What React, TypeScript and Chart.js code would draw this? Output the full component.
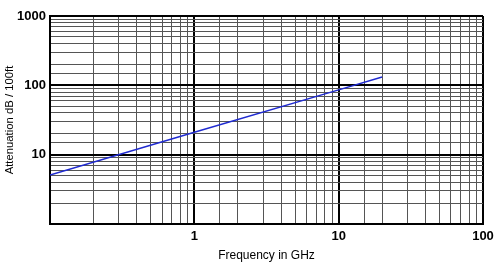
import React, { useEffect, useRef } from "react";
import { Chart, registerables } from "chart.js";

Chart.register(...registerables);

const frequencies = [0.1, 1, 10, 20];
const attenuation = [5.1, 21, 86, 132];
const xLabels = [1, 10, 100];
const yLabels = [10, 100, 1000];

const isDecade = (v: number) => Math.abs(Math.log10(v) - Math.round(Math.log10(v))) < 1e-6;

export default function App() {
  const ref = useRef<HTMLCanvasElement>(null);
  useEffect(() => {
    document.body.style.margin = "0";
    const ctx = ref.current!;
    const chart = new Chart(ctx, {
      type: "line",
      data: {
        datasets: [
          {
            data: frequencies.map((f, i) => ({ x: f, y: attenuation[i] })),
            borderColor: "#1f2ad0",
            borderWidth: 1.5,
            pointRadius: 0,
            tension: 0,
            fill: false,
          },
        ],
      },
      options: {
        animation: false,
        responsive: false,
        maintainAspectRatio: false,
        layout: { padding: { left: 0, right: 17, top: 16, bottom: 0 } },
        plugins: { legend: { display: false }, tooltip: { enabled: false } },
        scales: {
          x: {
            type: "logarithmic",
            min: 0.1,
            max: 100,
            border: { display: true, color: "#000", width: 2 },
            grid: {
              drawTicks: false,
              color: (c: any) => (isDecade(c.tick?.value ?? 1) ? "#000" : "#555"),
              lineWidth: (c: any) => (isDecade(c.tick?.value ?? 1) ? 2 : 1),
            },
            ticks: {
              autoSkip: false,
              maxRotation: 0,
              padding: 5,
              color: "#000",
              font: { family: "Liberation Sans", size: 13, weight: "bold" },
              callback: (v: any) => (xLabels.includes(Number(v)) ? String(Number(v)) : ""),
            },
            title: {
              display: true,
              text: "Frequency in GHz",
              color: "#000",
              font: { family: "Liberation Sans", size: 12 },
              padding: { top: 4, bottom: 7 },
            },
            afterFit: (s: any) => {
              s.height = 46;
            },
          },
          y: {
            type: "logarithmic",
            min: 1,
            max: 1000,
            border: { display: true, color: "#000", width: 2 },
            grid: {
              drawTicks: false,
              color: (c: any) => (isDecade(c.tick?.value ?? 1) ? "#000" : "#555"),
              lineWidth: (c: any) => (isDecade(c.tick?.value ?? 1) ? 2 : 1),
            },
            ticks: {
              autoSkip: false,
              padding: 4,
              color: "#000",
              font: { family: "Liberation Sans", size: 13, weight: "bold" },
              callback: (v: any) => (yLabels.includes(Number(v)) ? String(Number(v)) : ""),
            },
            title: {
              display: true,
              text: "Attenuation dB / 100ft",
              color: "#000",
              font: { family: "Liberation Sans", size: 11.3 },
              padding: { top: 3, bottom: 0 },
            },
            afterFit: (s: any) => {
              s.width = 50;
            },
          },
        },
      },
    });
    return () => chart.destroy();
  }, []);
  return (
    <div style={{ width: 500, height: 270, background: "#fff" }}>
      <canvas ref={ref} width={500} height={270} style={{ display: "block" }} />
    </div>
  );
}
